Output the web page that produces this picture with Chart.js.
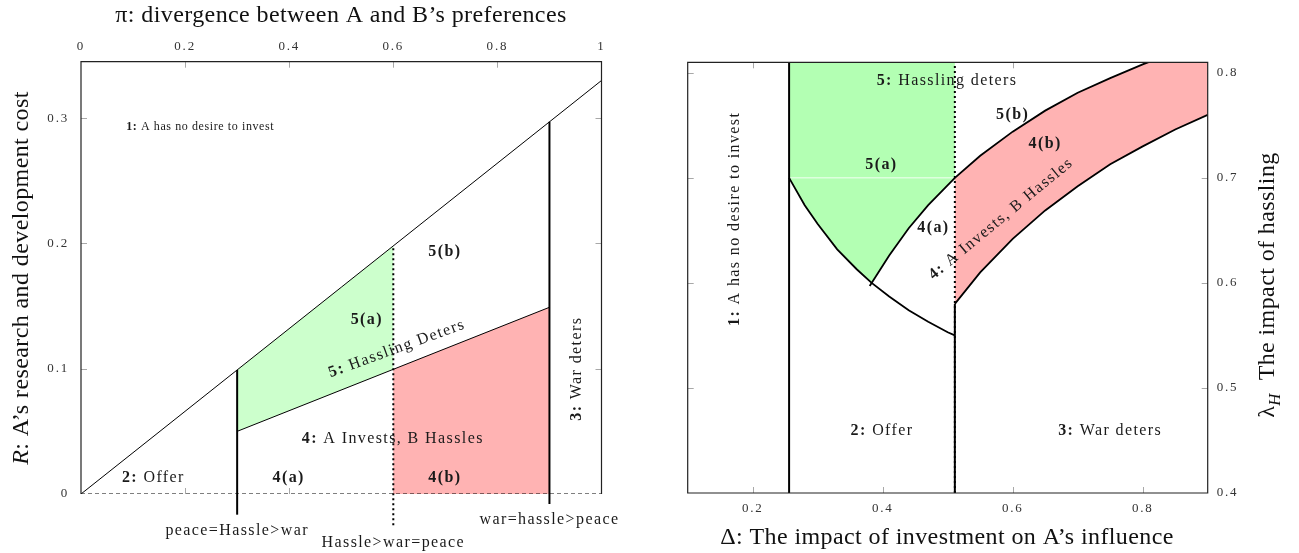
<!DOCTYPE html>
<html>
<head>
<meta charset="utf-8">
<script src="https://cdn.jsdelivr.net/npm/chart.js@4.4.1/dist/chart.umd.min.js"></script>
<style>
  html, body { margin: 0; padding: 0; background: #fff; }
  #wrap { position: relative; width: 1299px; height: 553px; overflow: hidden; }
  canvas { position: absolute; top: 0; }
</style>
</head>
<body>
<div id="wrap">
  <canvas id="left" width="640" height="553" style="left:0px"></canvas>
  <canvas id="right" width="649" height="553" style="left:650px"></canvas>
</div>
<script>
// ---------------- LEFT PANEL DATA (π, R) ----------------
const leftXTicks = [0, 0.2, 0.4, 0.6, 0.8, 1];
const leftYTicks = [0, 0.1, 0.2, 0.3];
const diagPi = [0, 1];
const diagR = [0, 0.33];
const hasslePi = [0.3, 0.9];
const hassleR = [0.05, 0.149];
const greenPi = [0.3, 0.6, 0.6, 0.3];
const greenR = [0.099, 0.198, 0.0995, 0.05];
const redPi = [0.6, 0.9, 0.9, 0.6];
const redR = [0, 0, 0.149, 0.0995];
const basePi = [0, 1];
const baseR = [0, 0];
const line03Pi = [0.3, 0.3];
const line03R = [-0.0165, 0.099];
const line06Pi = [0.6, 0.6];
const line06R = [-0.025, 0.198];
const line09Pi = [0.9, 0.9];
const line09R = [-0.008, 0.297];

// ---------------- RIGHT PANEL DATA (Δ, λH) ----------------
const rightXTicks = [0.2, 0.4, 0.6, 0.8];
const rightYTicks = [0.4, 0.5, 0.6, 0.7, 0.8];
const lowerArcD = [0.256, 0.28, 0.30, 0.33, 0.36, 0.383, 0.41, 0.44, 0.47, 0.50, 0.511];
const lowerArcL = [0.700, 0.674, 0.656, 0.632, 0.613, 0.600, 0.587, 0.574, 0.563, 0.553, 0.550];
const upperArcD = [0.380, 0.41, 0.44, 0.47, 0.511, 0.55, 0.60, 0.65, 0.70, 0.75, 0.80, 0.83];
const upperArcL = [0.597, 0.626, 0.652, 0.674, 0.700, 0.721, 0.744, 0.764, 0.781, 0.795, 0.808, 0.815];
const bandLowD = [0.511, 0.55, 0.60, 0.65, 0.70, 0.75, 0.80, 0.85, 0.90];
const bandLowL = [0.580, 0.610, 0.642, 0.669, 0.692, 0.713, 0.730, 0.746, 0.760];
const greenBoxD = [0.256, 0.511, 0.511, 0.50, 0.47, 0.44, 0.41, 0.383, 0.36, 0.33, 0.30, 0.28, 0.256];
const greenBoxL = [0.81, 0.81, 0.700, 0.693, 0.674, 0.652, 0.626, 0.600, 0.613, 0.632, 0.656, 0.674, 0.700];
const redBandD = [0.511, 0.55, 0.60, 0.65, 0.70, 0.75, 0.80, 0.83, 0.90, 0.90, 0.85, 0.80, 0.75, 0.70, 0.65, 0.60, 0.55, 0.511];
const redBandL = [0.700, 0.721, 0.744, 0.764, 0.781, 0.795, 0.808, 0.815, 0.83, 0.760, 0.746, 0.730, 0.713, 0.692, 0.669, 0.642, 0.610, 0.580];
const seamD = [0.256, 0.511];
const seamL = [0.700, 0.700];
const vLeftD = [0.256, 0.256];
const vLeftL = [0.4, 0.81];
const vMidD = [0.511, 0.511];
const vMidL = [0.4, 0.81];
const vMidSolidL = [0.4, 0.58];

// ---------------- helpers ----------------
const pts = (xs, ys) => xs.map((x, i) => ({x: x, y: ys[i]}));
const FONT = '"Liberation Serif", "DejaVu Serif", serif';

function lineDs(xs, ys, opts) {
  return Object.assign({
    data: pts(xs, ys), showLine: true, pointRadius: 0, pointHoverRadius: 0,
    borderColor: '#000', borderWidth: 1, fill: false, order: 1, tension: 0
  }, opts || {});
}
function shapeDs(xs, ys, color) {
  return {
    data: pts(xs, ys), showLine: true, pointRadius: 0, pointHoverRadius: 0,
    borderWidth: 0, borderColor: 'rgba(0,0,0,0)', backgroundColor: color,
    fill: 'shape', order: 5, tension: 0
  };
}

function drawRich(ctx, segs, x, y, rot, size, spacing) {
  ctx.save();
  ctx.translate(x, y);
  ctx.rotate(rot * Math.PI / 180);
  ctx.textBaseline = 'middle';
  ctx.textAlign = 'left';
  try { ctx.letterSpacing = spacing + 'px'; } catch (e) {}
  let w = 0;
  const info = segs.map(s => {
    const st = s[1] || '';
    const sz = st.includes('s') ? size * 0.7 : size;
    const f = (st.includes('i') ? 'italic ' : '') + (st.includes('b') ? 'bold ' : '') + sz + 'px ' + FONT;
    ctx.font = f;
    const m = ctx.measureText(s[0]).width;
    w += m;
    return {f: f, m: m, dy: st.includes('s') ? size * 0.3 : 0};
  });
  let cx = -w / 2;
  segs.forEach((s, k) => {
    ctx.font = info[k].f;
    ctx.fillText(s[0], cx, info[k].dy);
    cx += info[k].m;
  });
  ctx.restore();
}

const decor = {
  id: 'decor',
  beforeDraw(chart) {
    try { chart.ctx.letterSpacing = '1.8px'; } catch (e) {}
  },
  beforeDatasetsDraw(chart, args, o) {
    const ctx = chart.ctx, a = chart.chartArea, xs = chart.scales.x, ys = chart.scales.y;
    try { ctx.letterSpacing = '0px'; } catch (e) {}
    ctx.save();
    ctx.strokeStyle = '#a8a8a8';
    ctx.lineWidth = 1;
    const L = 6;
    const seg = (x1, y1, x2, y2) => { ctx.beginPath(); ctx.moveTo(x1, y1); ctx.lineTo(x2, y2); ctx.stroke(); };
    o.tickX.forEach(v => {
      const px = Math.round(xs.getPixelForValue(v)) + 0.5;
      seg(px, a.top, px, a.top + L);
      seg(px, a.bottom, px, a.bottom - L);
    });
    o.tickY.forEach(v => {
      const py = Math.round(ys.getPixelForValue(v)) + 0.5;
      seg(a.left, py, a.left + L, py);
      seg(a.right, py, a.right - L, py);
    });
    ctx.restore();
  },
  afterDatasetsDraw(chart, args, o) {
    const ctx = chart.ctx, a = chart.chartArea, xs = chart.scales.x, ys = chart.scales.y;
    ctx.save();
    ctx.strokeStyle = '#222';
    ctx.lineWidth = 1.2;
    ctx.beginPath();
    if (o.fullFrame) {
      ctx.rect(a.left, a.top, a.right - a.left, a.bottom - a.top);
    } else {
      ctx.moveTo(a.left, a.bottom); ctx.lineTo(a.left, a.top);
      ctx.lineTo(a.right, a.top); ctx.lineTo(a.right, a.bottom);
    }
    ctx.stroke();
    ctx.fillStyle = '#1a1a1a';
    o.ann.forEach(n => {
      const size = n.small ? 12 : 16;
      const sp = n.small ? 0.6 : 1.4;
      drawRich(ctx, n.s, xs.getPixelForValue(n.x), ys.getPixelForValue(n.y), n.r || 0, size, sp);
    });
    ctx.fillStyle = '#111';
    o.titles.forEach(t => {
      drawRich(ctx, t.s, t.x, t.y, t.r || 0, 24, 0.4);
    });
    ctx.restore();
  }
};

function axis(pos, min, max, ticksArr, pad, fitSize) {
  return {
    type: 'linear', position: pos, min: min, max: max,
    grid: {display: false, drawTicks: false},
    border: {display: false},
    title: {display: false},
    afterBuildTicks: s => { s.ticks = ticksArr.map(v => ({value: v})); },
    afterFit: s => { if (pos === 'top' || pos === 'bottom') s.height = fitSize; else s.width = fitSize; },
    ticks: {
      color: '#333', padding: pad, autoSkip: false, maxRotation: 0,
      font: {family: FONT, size: 13},
      callback: v => String(v)
    }
  };
}

// ---------------- LEFT CHART ----------------
const leftAnn = [
  {s: [['1:', 'b'], [' A has no desire to invest']], x: 0.229, y: 0.293, small: true},
  {s: [['5(b)', 'b']], x: 0.699, y: 0.193},
  {s: [['5(a)', 'b']], x: 0.549, y: 0.139},
  {s: [['5:', 'b'], [' Hassling Deters']], x: 0.607, y: 0.116, r: -20},
  {s: [['4:', 'b'], [' A Invests, B Hassles']], x: 0.599, y: 0.0438},
  {s: [['2:', 'b'], [' Offer']], x: 0.139, y: 0.013},
  {s: [['4(a)', 'b']], x: 0.399, y: 0.013},
  {s: [['4(b)', 'b']], x: 0.699, y: 0.013},
  {s: [['3:', 'b'], [' War deters']], x: 0.953, y: 0.10, r: -90},
  {s: [['peace=Hassle>war']], x: 0.3, y: -0.0295},
  {s: [['Hassle>war=peace']], x: 0.6, y: -0.0387},
  {s: [['war=hassle>peace']], x: 0.9, y: -0.0203}
];

new Chart(document.getElementById('left'), {
  type: 'scatter',
  data: {
    datasets: [
      shapeDs(greenPi, greenR, '#ccffcc'),
      shapeDs(redPi, redR, '#ffb3b3'),
      lineDs(diagPi, diagR, {borderWidth: 1}),
      lineDs(hasslePi, hassleR, {borderWidth: 1}),
      lineDs(basePi, baseR, {borderWidth: 1.1, borderDash: [4, 3]}),
      lineDs(line03Pi, line03R, {borderWidth: 2, clip: false}),
      lineDs(line06Pi, line06R, {borderWidth: 2, borderDash: [2, 3], clip: false}),
      lineDs(line09Pi, line09R, {borderWidth: 2, clip: false})
    ]
  },
  options: {
    responsive: false, animation: false, devicePixelRatio: 1,
    layout: {padding: {left: 0, top: 0, right: 38.5, bottom: 59}},
    plugins: {
      legend: {display: false}, tooltip: {enabled: false},
      decor: {
        tickX: [0.2, 0.4, 0.6, 0.8], tickY: [0.1, 0.2, 0.3], fullFrame: false, ann: leftAnn,
        titles: [
          {s: [['π: divergence between A and B’s preferences']], x: 341, y: 16},
          {s: [['R', 'i'], [': A’s research and development cost']], x: 22, y: 278, r: -90}
        ]
      }
    },
    scales: {
      x: axis('top', 0, 1, leftXTicks, 7, 61.7),
      y: axis('left', 0, 0.345, leftYTicks, 12, 81)
    }
  },
  plugins: [decor]
});

// ---------------- RIGHT CHART ----------------
const rightAnn = [
  {s: [['1:', 'b'], [' A has no desire to invest']], x: 0.173, y: 0.661, r: -90},
  {s: [['5:', 'b'], [' Hassling deters']], x: 0.499, y: 0.792},
  {s: [['5(a)', 'b']], x: 0.398, y: 0.712},
  {s: [['5(b)', 'b']], x: 0.60, y: 0.760},
  {s: [['4(b)', 'b']], x: 0.65, y: 0.732},
  {s: [['4(a)', 'b']], x: 0.478, y: 0.652},
  {s: [['4:', 'b'], [' A Invests, B Hassles']], x: 0.582, y: 0.661, r: -39.5},
  {s: [['2:', 'b'], [' Offer']], x: 0.399, y: 0.459},
  {s: [['3:', 'b'], [' War deters']], x: 0.75, y: 0.459}
];

new Chart(document.getElementById('right'), {
  type: 'scatter',
  data: {
    datasets: [
      shapeDs(greenBoxD, greenBoxL, '#b3ffb3'),
      shapeDs(redBandD, redBandL, '#ffb3b3'),
      lineDs(seamD, seamL, {borderColor: 'rgba(255,255,255,0.85)', borderWidth: 1, order: 2}),
      lineDs(lowerArcD, lowerArcL, {borderWidth: 1.8}),
      lineDs(upperArcD, upperArcL, {borderWidth: 1.8}),
      lineDs(bandLowD, bandLowL, {borderWidth: 1.8}),
      lineDs(vLeftD, vLeftL, {borderWidth: 2}),
      lineDs(vMidD, vMidSolidL, {borderWidth: 2}),
      lineDs(vMidD, vMidL, {borderWidth: 2, borderDash: [2, 3]})
    ]
  },
  options: {
    responsive: false, animation: false, devicePixelRatio: 1,
    layout: {padding: {left: 37.7, top: 62.3, right: 0, bottom: 0}},
    plugins: {
      legend: {display: false}, tooltip: {enabled: false},
      decor: {
        tickX: [0.2, 0.4, 0.6, 0.8], tickY: [0.5, 0.6, 0.7, 0.8], fullFrame: true, ann: rightAnn,
        titles: [
          {s: [['Δ: The impact of investment on A’s influence']], x: 297, y: 538},
          {s: [['λ'], ['H', 'is'], ['  The impact of hassling']], x: 618, y: 285, r: -90}
        ]
      }
    },
    scales: {
      x: axis('bottom', 0.1, 0.9, rightXTicks, 8, 60),
      y: axis('right', 0.4, 0.81, rightYTicks, 9, 91.3)
    }
  },
  plugins: [decor]
});
</script>
</body>
</html>
